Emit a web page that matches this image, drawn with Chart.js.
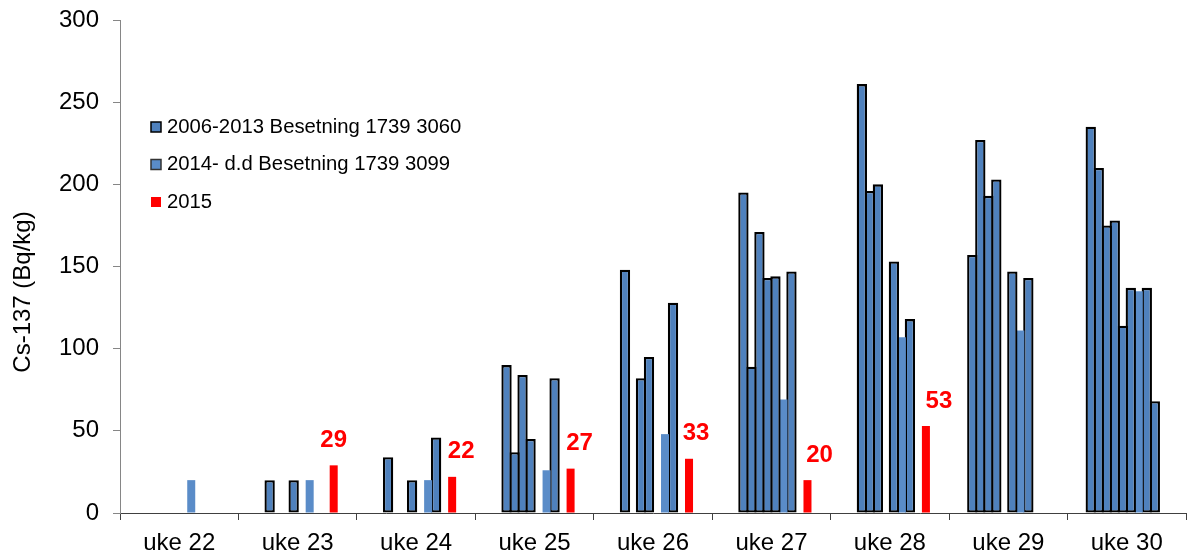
<!DOCTYPE html>
<html>
<head>
<meta charset="utf-8">
<script src="https://cdn.jsdelivr.net/npm/chart.js@4/dist/chart.umd.min.js"></script>
<style>
  html, body { margin: 0; padding: 0; background: #fff; }
  #wrap { width: 1187px; height: 558px; }
</style>
</head>
<body>
<div id="wrap"><canvas id="c" width="1187" height="558"></canvas></div>
<script>
// Weeks on the x axis
const weeks = ['uke 22', 'uke 23', 'uke 24', 'uke 25', 'uke 26', 'uke 27', 'uke 28', 'uke 29', 'uke 30'];
// Y axis tick values (Bq/kg)
const yTicks = [0, 50, 100, 150, 200, 250, 300];

// Herd 1739 3060, 2006-2013 (one series per season)
const h3060a = [null, null, null, null, null, null, null, 157, 235];
const h3060b = [null, 20, 34, 90, 148, 195, 261, 227, 210];
const h3060c = [null, null, null, 37, null, 89, 196, 193, 175];
const h3060d = [null, null, null, 84, 82, 171, 200, 203, 178];
const h3060e = [null, 20, 20, 45, 95, 143, null, null, 114];
const h3060f = [null, null, null, null, null, 144, 153, 147, 137];
// Herd 1739 3099, 2014 onwards
const h3099 = [20, 20, 20, 26, 48, 69, 107, 111, 135];
const h3060g = [null, null, 46, 82, 128, 147, 118, 143, 137];
const h3060h = [null, null, null, null, null, null, null, null, 68];
// 2015
const y2015 = [null, 29, 22, 27, 33, 20, 53, null, null];

const DARK = '#4F81BD';
const LIGHT = '#5A8CC8';
const RED = '#FF0000';
const FONT = "'Liberation Sans', Arial, sans-serif";

// Outlined bars: slightly wider than their slot so neighbouring outlines share one line
const darkSet = (label, data) => ({
  label, data, backgroundColor: DARK, borderColor: '#000', borderWidth: 2.3,
  borderSkipped: false, barPercentage: 1.29
});

const datasets = [
  darkSet('2006-2013 Besetning 1739 3060', h3060a),
  darkSet('h3060b', h3060b),
  darkSet('h3060c', h3060c),
  darkSet('h3060d', h3060d),
  darkSet('h3060e', h3060e),
  darkSet('h3060f', h3060f),
  { label: '2014- d.d Besetning 1739 3099', data: h3099, backgroundColor: LIGHT, borderWidth: 0, barPercentage: 1.0 },
  darkSet('h3060g', h3060g),
  darkSet('h3060h', h3060h),
  { label: '2015', data: y2015, backgroundColor: RED, borderWidth: 0, barPercentage: 1.0 }
];

// Legend entries shown inside the plot
const legendEntries = [
  { text: '2006-2013 Besetning 1739 3060', fill: DARK, stroke: '#000' },
  { text: '2014- d.d Besetning 1739 3099', fill: LIGHT, stroke: '#333' },
  { text: '2015', fill: RED, stroke: null }
];

const insideLegend = {
  id: 'insideLegend',
  afterDraw(chart, args, opts) {
    const ctx = chart.ctx;
    ctx.save();
    ctx.font = '20.3px ' + FONT;
    ctx.textBaseline = 'middle';
    ctx.textAlign = 'left';
    legendEntries.forEach((e, i) => {
      const y = opts.y + i * opts.step;
      ctx.fillStyle = e.fill;
      ctx.fillRect(opts.x, y - 5, 10, 10);
      if (e.stroke) {
        ctx.strokeStyle = e.stroke;
        ctx.lineWidth = 1.5;
        ctx.strokeRect(opts.x, y - 5, 10, 10);
      }
      ctx.fillStyle = '#000';
      ctx.fillText(e.text, opts.x + 16, y);
    });
    ctx.restore();
  }
};

// Rotated y axis title
const yTitle = {
  id: 'yTitle',
  afterDraw(chart, args, opts) {
    const ctx = chart.ctx;
    ctx.save();
    ctx.translate(opts.x, opts.y);
    ctx.rotate(-Math.PI / 2);
    ctx.font = '24px ' + FONT;
    ctx.fillStyle = '#000';
    ctx.textAlign = 'center';
    ctx.textBaseline = 'middle';
    ctx.fillText(opts.text, 0, 0);
    ctx.restore();
  }
};

// Value labels above the 2015 bars
const valueLabels = {
  id: 'valueLabels',
  afterDatasetsDraw(chart, args, opts) {
    const idx = chart.data.datasets.length - 1;
    const meta = chart.getDatasetMeta(idx);
    const ctx = chart.ctx;
    ctx.save();
    ctx.font = 'bold 24px ' + FONT;
    ctx.fillStyle = RED;
    ctx.textAlign = 'center';
    ctx.textBaseline = 'middle';
    meta.data.forEach((bar, i) => {
      const v = chart.data.datasets[idx].data[i];
      if (v === null || v === undefined) return;
      ctx.fillText(String(v), bar.x + (opts.dx[i] || 0), bar.y - opts.rise);
    });
    ctx.restore();
  }
};

new Chart(document.getElementById('c'), {
  type: 'bar',
  data: { labels: weeks, datasets },
  options: {
    responsive: false,
    animation: false,
    devicePixelRatio: 1,
    layout: { padding: { top: 20, right: 1, left: 0, bottom: 0 } },
    datasets: { bar: { categoryPercentage: 0.676 } },
    plugins: {
      legend: { display: false },
      tooltip: { enabled: false },
      insideLegend: { x: 151, y: 127, step: 37.5 },
      yTitle: { x: 23, y: 292, text: 'Cs-137 (Bq/kg)' },
      valueLabels: { rise: 25, dx: [0, 0, 9, 9, 7, 12, 13, 0, 0] }
    },
    scales: {
      x: {
        offset: true,
        afterFit(scale) { scale.height = 45; },
        grid: { offset: true, drawOnChartArea: false, drawTicks: true, tickLength: 7, color: '#404040' },
        border: { color: '#404040', width: 1 },
        ticks: { font: { family: FONT, size: 24 }, color: '#000', padding: 9, maxRotation: 0 }
      },
      y: {
        min: 0,
        max: 300,
        afterBuildTicks(scale) { scale.ticks = yTicks.map(v => ({ value: v })); },
        afterFit(scale) { scale.width = 120; scale.paddingTop = 0; scale.paddingBottom = 0; },
        grid: { drawOnChartArea: false, drawTicks: true, tickLength: 7, color: '#868686' },
        border: { color: '#868686', width: 1 },
        ticks: { font: { family: FONT, size: 24 }, color: '#000', padding: 14 }
      }
    }
  },
  plugins: [insideLegend, yTitle, valueLabels]
});
</script>
</body>
</html>
